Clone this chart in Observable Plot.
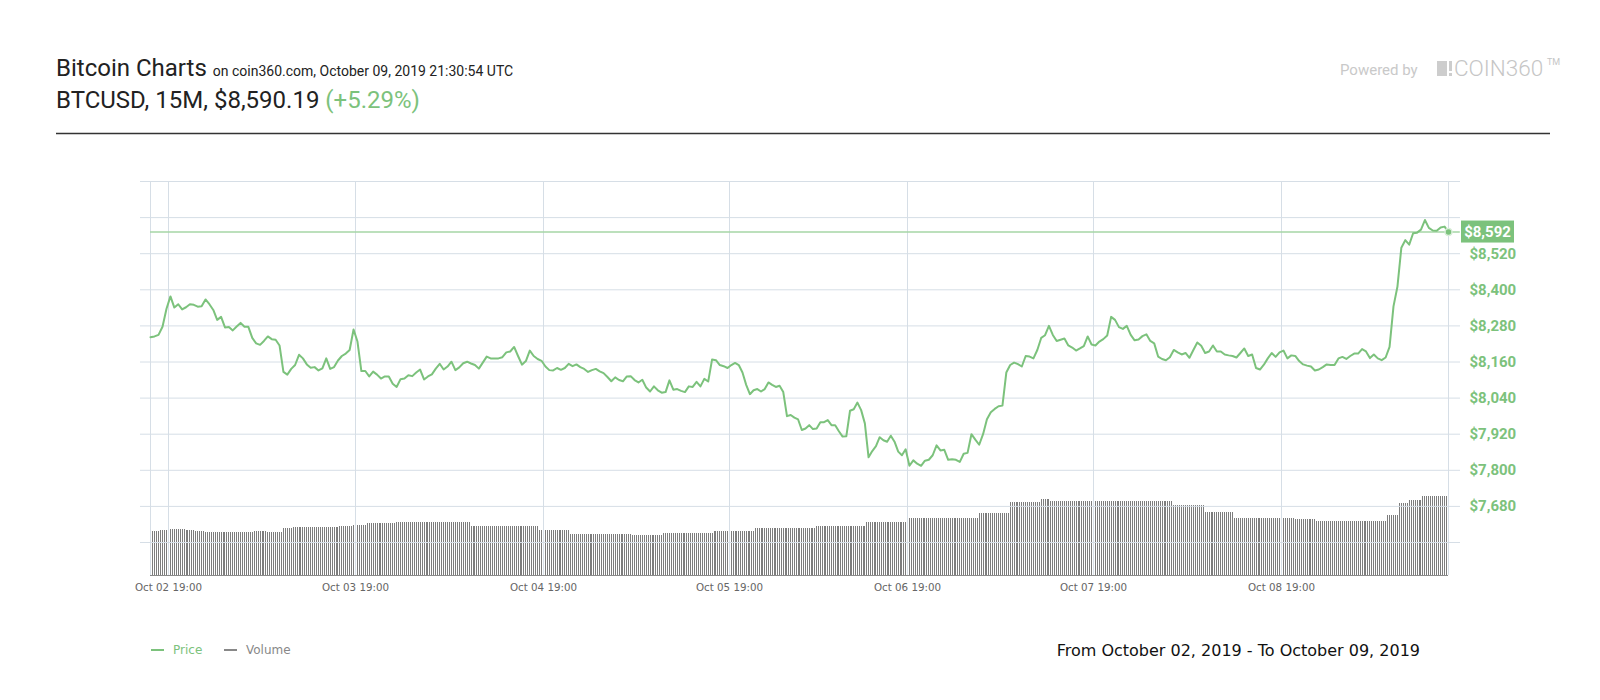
<!DOCTYPE html>
<html>
<head>
<meta charset="utf-8">
<script src="https://cdn.jsdelivr.net/npm/d3@7"></script>
<script src="https://cdn.jsdelivr.net/npm/@observablehq/plot@0.6"></script>
<style>
  html, body { margin: 0; padding: 0; background: #fff; }
  #wrap { position: relative; width: 1600px; height: 700px; overflow: hidden; background: #fff; }
  #wrap > svg, #wrap > div { position: absolute; left: 0; top: 0; }
  #overlay { pointer-events: none; }
</style>
</head>
<body>
<div id="wrap">
  <div id="vol"></div>
  <div id="price"></div>
  <svg id="overlay" width="1600" height="700" xmlns="http://www.w3.org/2000/svg">
    <text x="56" y="76" font-family="Roboto" fill="#222"><tspan font-size="24">Bitcoin Charts</tspan><tspan font-size="14" dx="6">on coin360.com, October 09, 2019 21:30:54 UTC</tspan></text>
    <text x="56" y="108" font-family="Roboto" font-size="24" fill="#222">BTCUSD, 15M, $8,590.19 <tspan fill="#7cc27c">(+5.29%)</tspan></text>
    <text x="1340" y="75" font-family="Roboto" font-size="15" fill="#c9c9c9">Powered by</text>
    <rect x="1437" y="61" width="10" height="15" fill="#cdcdcd"/>
    <rect x="1449" y="61" width="3" height="10" fill="#cdcdcd"/>
    <rect x="1449" y="73" width="3" height="3" fill="#cdcdcd"/>
    <text x="1454" y="76" font-family="Roboto" font-weight="300" font-size="22.5" fill="#c6c6c6">COIN360</text>
    <text x="1547" y="65" font-family="Roboto" font-size="9" fill="#c6c6c6">TM</text>
    <line x1="56" x2="1550" y1="133.5" y2="133.5" stroke="#333" stroke-width="1.5"/>
    <g id="legend" font-family="DejaVu Sans" font-size="12"></g>
    <text x="1420" y="656" text-anchor="end" font-family="DejaVu Sans" font-size="16" fill="#111">From October 02, 2019 - To October 09, 2019</text>
  </svg>
</div>
<script>
// ---------- data ----------
// BTCUSD price, one reading every 30 minutes, starting Oct 02 16:45
const priceStartUTC = [2019, 9, 2, 16, 45];
const priceStepMinutes = 30;
const price = [
  8242, 8245, 8250, 8277, 8337,
  8378, 8341, 8352, 8335, 8342, 8352, 8350, 8344, 8345, 8368,
  8352, 8333, 8300, 8310, 8275, 8276, 8265, 8278, 8290, 8277,
  8277, 8240, 8222, 8217, 8230, 8245, 8236, 8234, 8215, 8127,
  8118, 8137, 8150, 8184, 8172, 8152, 8141, 8143, 8132, 8139,
  8172, 8137, 8143, 8165, 8180, 8188, 8200, 8268,
  8228, 8130, 8130, 8112, 8128, 8118, 8105, 8112, 8112, 8088,
  8077, 8103, 8105, 8116, 8113, 8125, 8135, 8102, 8112, 8119,
  8138, 8154, 8135, 8145, 8161, 8133, 8142, 8156, 8161, 8155,
  8150, 8138, 8158, 8178, 8172, 8172, 8172, 8176, 8192, 8195,
  8210, 8180, 8151, 8163, 8198, 8180, 8170, 8164,
  8145, 8133, 8132, 8140, 8134, 8140, 8154, 8146, 8152, 8143,
  8137, 8127, 8133, 8137, 8129, 8123, 8110, 8096, 8109, 8100,
  8096, 8112, 8113, 8100, 8092, 8101, 8075, 8062, 8079, 8066,
  8058, 8060, 8099, 8068, 8070, 8064, 8060, 8079, 8077, 8094,
  8079, 8104, 8095, 8168, 8166, 8150, 8146, 8140,
  8150, 8157, 8150, 8125, 8084, 8053, 8066, 8070, 8062, 8070,
  8092, 8084, 8077, 8081, 8060, 7980, 7984, 7975, 7969, 7934,
  7939, 7950, 7937, 7939, 7960, 7960, 7967, 7950, 7950, 7930,
  7912, 7913, 7998, 8003, 8025, 8000, 7956, 7843, 7864, 7880,
  7910, 7900, 7895, 7915, 7895, 7862, 7850, 7870,
  7815, 7833, 7822, 7815, 7832, 7835, 7850, 7883, 7866, 7868,
  7835, 7837, 7835, 7828, 7855, 7858, 7920, 7902, 7885, 7920,
  7970, 7993, 8004, 8013, 8015, 8125, 8150, 8158, 8153, 8145,
  8180, 8178, 8172, 8200, 8240, 8249, 8280, 8250, 8230, 8234,
  8238, 8215, 8208, 8198, 8205, 8213, 8245, 8218,
  8215, 8228, 8236, 8248, 8310, 8300, 8276, 8270, 8280, 8250,
  8232, 8235, 8246, 8252, 8230, 8222, 8178, 8170, 8166, 8176,
  8200, 8192, 8185, 8190, 8174, 8200, 8225, 8214, 8190, 8195,
  8215, 8195, 8195, 8185, 8182, 8180, 8175, 8190, 8205, 8180,
  8185, 8140, 8135, 8151, 8172, 8190, 8177, 8192,
  8198, 8172, 8182, 8180, 8163, 8152, 8148, 8145, 8132, 8135,
  8143, 8152, 8150, 8150, 8172, 8177, 8170, 8180, 8188, 8188,
  8203, 8195, 8173, 8185, 8172, 8166, 8175, 8210, 8345, 8410,
  8540, 8565, 8550, 8588, 8590, 8600, 8632, 8606, 8597, 8596, 8607, 8610, 8592
];
// Volume (24h, arbitrary units) per 15-minute bar, as runs: [number of bars, level]
const volumeStepMinutes = 15;
const volumeRuns = [
  [5, 8.8], [5, 9.0], [8, 9.25], [5, 9.0], [5, 8.8], [25, 8.6], [7, 8.8], [8, 8.6],
  [5, 9.4], [14, 9.6], [10, 9.7], [7, 9.9], [7, 10.0], [15, 10.4], [38, 10.7],
  [35, 9.8], [16, 9.0], [32, 8.2], [16, 8.0], [26, 8.4], [22, 8.8], [33, 9.4],
  [27, 9.8], [23, 10.6], [36, 11.4], [16, 12.4], [16, 14.6], [5, 15.2], [63, 14.8],
  [16, 14.0], [15, 12.6], [31, 11.4], [11, 11.2], [36, 10.8], [6, 12.0], [5, 14.4],
  [7, 15.0], [14, 15.8]
];
const xTickDays = [2, 3, 4, 5, 6, 7, 8];          // Oct xx 19:00
const xTickLabels = ["Oct 02 19:00", "Oct 03 19:00", "Oct 04 19:00", "Oct 05 19:00", "Oct 06 19:00", "Oct 07 19:00", "Oct 08 19:00"];
const yGridValues = [8760, 8640, 8520, 8400, 8280, 8160, 8040, 7920, 7800, 7680, 7560];
const yTickValues = [8520, 8400, 8280, 8160, 8040, 7920, 7800, 7680];
const legendNames = ["Price", "Volume"];

// ---------- build tables ----------
const GREEN = "#7cc27c";
const GRID = "#d6dee6";
const start = Date.UTC(...priceStartUTC);
const priceData = price.map((p, k) => ({t: new Date(start + k * priceStepMinutes * 60000), p}));
const volData = [];
volumeRuns.forEach(([n, v]) => { for (let j = 0; j < n; j++) volData.push({t: new Date(start + volData.length * volumeStepMinutes * 60000), v}); });
const xTicks = xTickDays.map(d => new Date(Date.UTC(2019, 9, d, 19, 0)));
const last = priceData[priceData.length - 1];
const first = priceData[0];

// time axis (piecewise: the Oct 05 -> Oct 06 day has fewer candles on the chart)
const xScale = {
  type: "utc",
  domain: [first.t, ...xTicks, last.t],
  range: [150, 168, 355, 543, 729, 907, 1093, 1281, 1448],
  axis: null
};
const common = {width: 1600, height: 610, marginTop: 181, marginBottom: 35, marginLeft: 140, marginRight: 140};

// ---------- volume plot ----------
const vol = Plot.plot({
  ...common,
  style: {background: "transparent"},
  x: xScale,
  y: {domain: [0, 80], range: [575, 175], axis: null},
  marks: [
    Plot.ruleX(volData, {x: "t", y1: 0, y2: "v", stroke: "#7d7d7d", strokeWidth: 1, shapeRendering: "crispEdges"}),
    Plot.ruleY([0], {x1: () => first.t, x2: () => last.t, stroke: "#8a8a8a", strokeWidth: 1})
  ]
});
document.getElementById("vol").appendChild(vol);

// ---------- price plot ----------
function badge(index, scales) {
  const sx = typeof scales.x === "function" ? scales.x : scales.scale("x");
  const sy = typeof scales.y === "function" ? scales.y : scales.scale("y");
  const cx = sx(last.t), cy = sy(last.p);
  const g = d3.create("svg:g");
  g.append("rect").attr("x", cx + 13).attr("y", cy - 11).attr("width", 53).attr("height", 22).attr("fill", GREEN);
  g.append("text").attr("x", cx + 39.5).attr("y", cy).attr("dy", "0.36em")
    .attr("text-anchor", "middle").attr("fill", "#fff").attr("font-family", "Roboto")
    .attr("font-weight", "bold").attr("font-size", 15)
    .text("$" + d3.format(",")(Math.round(last.p)));
  return g.node();
}

const chart = Plot.plot({
  ...common,
  style: {background: "transparent", overflow: "visible"},
  x: xScale,
  y: {domain: [7560, 8760], range: [542, 181], axis: null},
  marks: [
    Plot.ruleY(yGridValues, {stroke: GRID, strokeWidth: 1}),
    Plot.ruleX([first.t, ...xTicks, last.t], {stroke: GRID, strokeWidth: 1}),
    Plot.ruleY([last.p], {x1: () => first.t, x2: () => new Date(+last.t + 90 * 60000), stroke: "#a6d6a6", strokeWidth: 1.5}),
    Plot.line(priceData, {x: "t", y: "p", stroke: GREEN, strokeWidth: 2, strokeLinejoin: "round"}),
    Plot.dot([last], {x: "t", y: "p", r: 3.5, fill: GREEN, stroke: "#d9eed9", strokeWidth: 1.5}),
    Plot.text(yTickValues, {y: d => d, text: d => "$" + d3.format(",")(d), frameAnchor: "right", dx: 9, textAnchor: "start",
      fill: GREEN, fontWeight: "bold", fontSize: 15, fontFamily: "Roboto"}),
    Plot.text(xTicks, {x: d => d, text: (d, i) => xTickLabels[i], frameAnchor: "bottom", dy: 15,
      fill: "#666", fontSize: 10.3, fontFamily: "DejaVu Sans"}),
    badge
  ]
});
document.getElementById("price").appendChild(chart);

// ---------- legend ----------
const lg = d3.select("#legend");
const legendColors = [GREEN, "#888"];
const legendX = [151, 224];
legendNames.forEach((name, i) => {
  lg.append("line").attr("x1", legendX[i]).attr("x2", legendX[i] + 13).attr("y1", 650).attr("y2", 650)
    .attr("stroke", legendColors[i]).attr("stroke-width", 2);
  lg.append("text").attr("x", legendX[i] + 22).attr("y", 654).attr("fill", legendColors[i]).text(name);
});
</script>
</body>
</html>
